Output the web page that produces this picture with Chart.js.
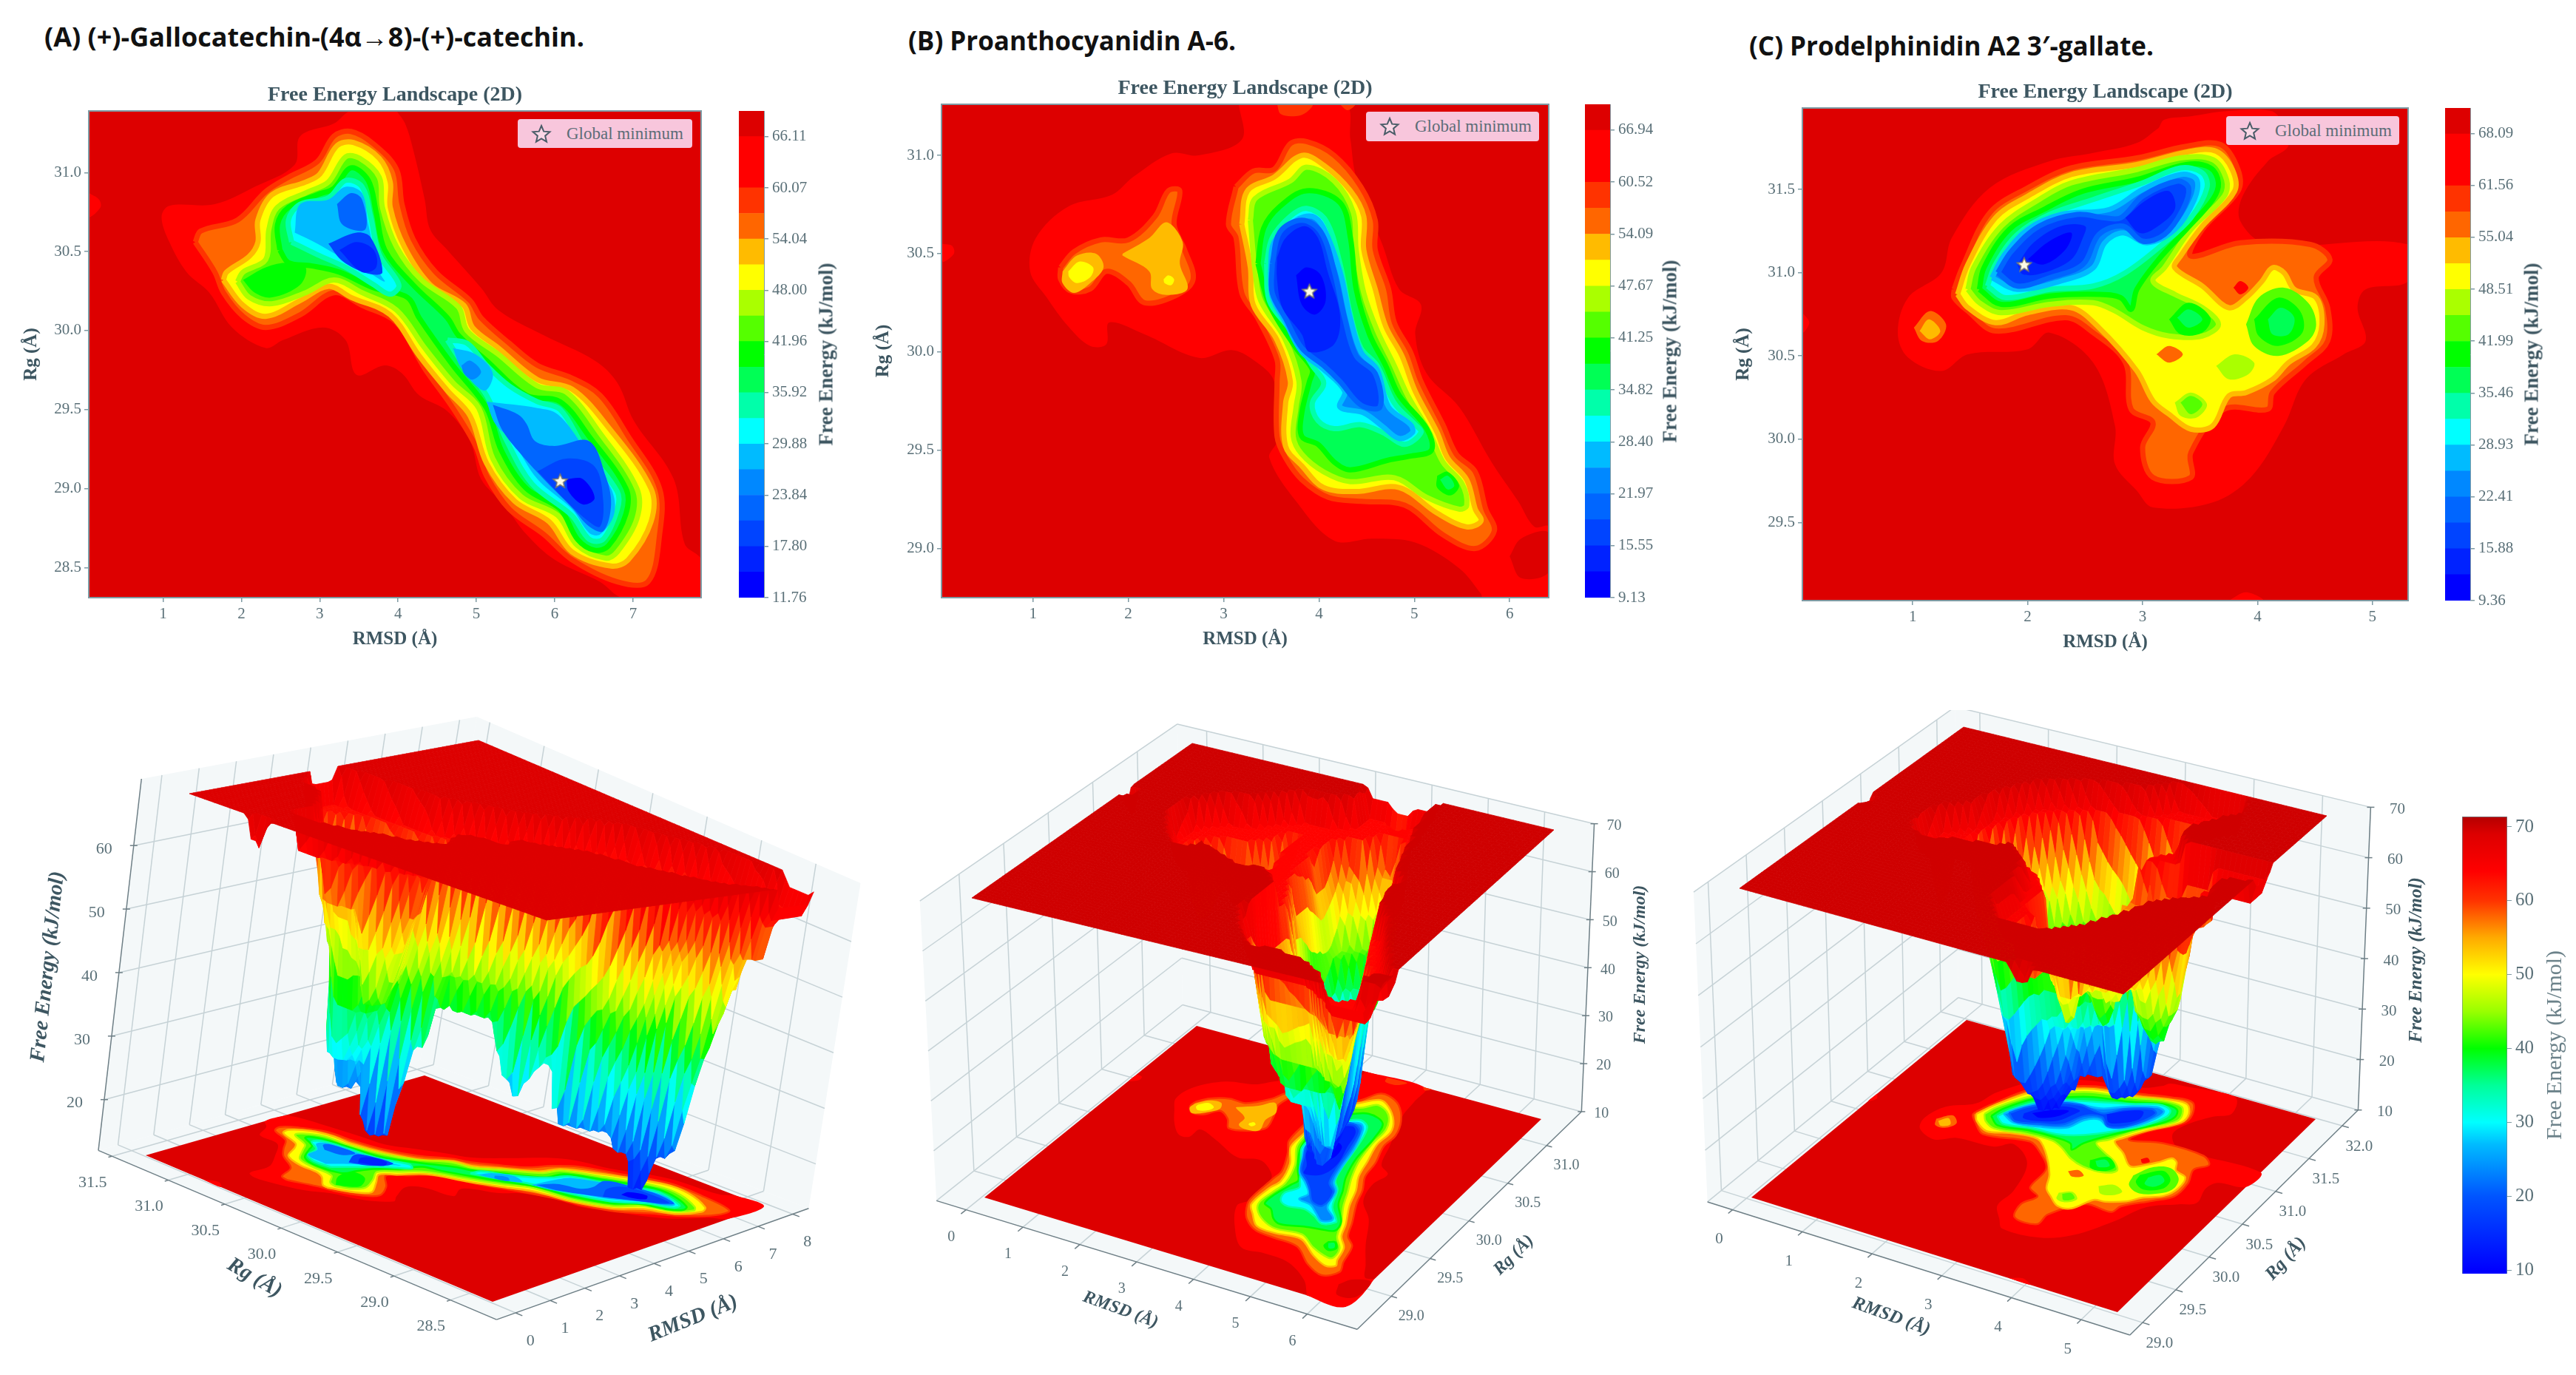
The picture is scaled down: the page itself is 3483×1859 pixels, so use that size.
<!DOCTYPE html>
<html>
<head>
<meta charset="utf-8">
<title>Free Energy Landscapes</title>
<script src="https://cdn.jsdelivr.net/npm/chart.js@4"></script>
<style>
  html, body { margin: 0; background: #fff; width: 3483px; height: 1859px; overflow: hidden; }
  canvas { position: absolute; filter: blur(0.7px); }
  .heading { position: absolute; font: 700 35px "Open Sans", sans-serif; color: #111; white-space: nowrap; }
  .barTitle { position: absolute; font: 700 27px "Liberation Serif", serif; color: #3d5661; white-space: nowrap;
              transform: translate(-50%, -50%) rotate(-90deg); }
  .legendBox { position: absolute; background: #f8c6dc; border-radius: 4px; color: #5d6d78; display: flex; align-items: center;
               font: 23px "Liberation Serif", serif; box-sizing: border-box; padding-left: 18px; gap: 20px; white-space: nowrap; }
</style>
</head>
<body>
<script>
// Colorbar tick labels of the three 2D panels (every second band edge)
const barTicksA = [11.76, 17.80, 23.84, 29.88, 35.92, 41.96, 48.00, 54.04, 60.07, 66.11];
const barTicksB = [9.13, 15.55, 21.97, 28.40, 34.82, 41.25, 47.67, 54.09, 60.52, 66.94];
const barTicksC = [9.36, 15.88, 22.41, 28.93, 35.46, 41.99, 48.51, 55.04, 61.56, 68.09];

// Global minimum of each landscape [RMSD, Rg]
const globalMinA = [6.07, 29.05];
const globalMinB = [3.90, 30.31];
const globalMinC = [1.97, 31.05];

// 3D axis ticks
const rmsdTicksA = [0, 1, 2, 3, 4, 5, 6, 7, 8];
const rgTicksA = [28.5, 29.0, 29.5, 30.0, 30.5, 31.0, 31.5];
const zTicksA = [20, 30, 40, 50, 60];
const rmsdTicksB = [0, 1, 2, 3, 4, 5, 6];
const rgTicksB = [29.0, 29.5, 30.0, 30.5, 31.0];
const zTicksB = [10, 20, 30, 40, 50, 60, 70];
const rmsdTicksC = [0, 1, 2, 3, 4, 5];
const rgTicksC = [29.0, 29.5, 30.0, 30.5, 31.0, 31.5, 32.0];
const zTicksC = [10, 20, 30, 40, 50, 60, 70];

// Colors of the 19 contour bands, low to high
const bandColors = ['#0000ff', '#0022ff', '#0044ff', '#0066ff', '#0088ff', '#00bbff', '#00ffff', '#00ffaa', '#00ff55', '#00ff00',
  '#55ff00', '#aaff00', '#ffff00', '#ffbb00', '#ff6600', '#ff3300', '#ff0000', '#ff0000', '#dd0000'];

// Continuous colormap of the 3D surfaces
const cmapValues = [10, 20, 27, 30, 35, 40, 45, 50, 55, 60, 64, 69, 72];
const cmapColors = ['#0000ff', '#0055ff', '#00bbff', '#00ffff', '#00ff99', '#00ff00', '#99ff00', '#ffff00', '#ffaa00', '#ff3300', '#ff0000', '#dd0000', '#b40000'];

// Contours: [band, [[RMSD, Rg], ...]], painted in order
const contoursA = [
  [16, [[3.98,31.39],[4.09,31.31],[4.19,31.15],[4.34,30.83],[4.41,30.64],[4.63,30.51],[5.06,30.27],[5.28,30.13],[5.86,29.97],[6.51,29.81],[6.80,29.67],[7.01,29.43],[7.52,29.06],[7.66,28.65],[7.87,28.55],[7.87,28.31],[6.87,28.31],[6.58,28.41],[6.00,28.55],[5.64,28.71],[5.35,28.90],[5.06,29.06],[4.92,29.30],[4.63,29.49],[4.27,29.59],[4.05,29.73],[3.83,29.78],[3.47,29.72],[3.33,29.94],[3.04,30.02],[2.53,29.94],[2.31,29.89],[1.88,30.02],[1.59,30.24],[1.30,30.37],[1.08,30.56],[0.98,30.72],[1.08,30.79],[1.66,30.80],[2.17,30.91],[2.68,31.05],[2.75,31.23],[3.18,31.31],[3.40,31.39]]],
  [16, [[0.05,30.87],[0.18,30.83],[0.20,30.78],[0.05,30.72]]],
  [14, [[1.41,30.56],[1.48,30.63],[1.95,30.70],[2.31,30.88],[2.60,30.97],[2.97,31.07],[3.18,31.23],[3.40,31.26],[3.69,31.18],[3.98,31.02],[4.05,30.80],[4.19,30.58],[4.48,30.37],[4.92,30.19],[5.06,30.08],[5.42,29.92],[5.78,29.78],[6.22,29.70],[6.58,29.59],[6.94,29.33],[7.34,29.00],[7.34,28.71],[7.19,28.41],[6.80,28.41],[6.22,28.55],[5.86,28.71],[5.42,28.87],[5.13,29.08],[4.99,29.27],[4.70,29.51],[4.34,29.76],[3.98,30.05],[3.54,30.16],[3.18,30.24],[2.75,30.10],[2.31,30.02],[2.02,30.09],[1.77,30.24],[1.66,30.37]]],
  [12, [[1.77,30.32],[1.81,30.37],[2.10,30.47],[2.21,30.56],[2.21,30.70],[2.39,30.86],[2.82,30.94],[3.00,30.99],[3.22,31.17],[3.43,31.19],[3.76,31.09],[3.90,30.94],[3.90,30.78],[4.08,30.53],[4.41,30.29],[4.84,30.16],[4.95,30.02],[5.28,29.89],[5.78,29.69],[6.22,29.63],[6.65,29.41],[7.23,29.00],[7.23,28.79],[6.94,28.55],[6.72,28.51],[6.22,28.60],[5.93,28.79],[5.49,28.92],[5.13,29.16],[4.92,29.46],[4.63,29.62],[4.27,29.84],[3.90,30.10],[3.40,30.21],[3.11,30.28],[2.75,30.19],[2.31,30.09],[2.02,30.16]]],
  [10, [[1.95,30.31],[2.02,30.37],[2.31,30.45],[2.35,30.64],[2.46,30.78],[2.86,30.88],[3.11,30.94],[3.33,31.10],[3.51,31.09],[3.76,30.97],[3.80,30.78],[3.98,30.53],[4.30,30.32],[4.77,30.15],[4.88,30.00],[5.28,29.85],[5.78,29.65],[6.15,29.61],[6.58,29.35],[7.05,29.00],[7.05,28.81],[6.80,28.60],[6.65,28.56],[6.29,28.64],[6.04,28.83],[5.57,28.95],[5.21,29.19],[5.03,29.51],[4.70,29.67],[4.34,29.89],[3.98,30.13],[3.54,30.24],[3.18,30.32],[2.82,30.24],[2.39,30.17],[2.10,30.21]]],
  [9, [[2.02,30.32],[2.31,30.40],[2.60,30.43],[2.82,30.40],[2.75,30.29],[2.39,30.21],[2.17,30.24]]],
  [8, [[2.49,30.51],[2.46,30.67],[2.60,30.78],[2.97,30.86],[3.18,30.90],[3.40,31.03],[3.62,30.95],[3.72,30.75],[3.83,30.51],[4.19,30.29],[4.63,30.08],[4.77,29.97],[5.13,29.81],[5.64,29.59],[6.07,29.55],[6.44,29.33],[6.91,29.00],[6.91,28.84],[6.69,28.64],[6.51,28.61],[6.29,28.68],[6.07,28.87],[5.64,29.00],[5.32,29.24],[5.13,29.51],[4.70,29.78],[4.27,30.08],[4.12,30.21],[3.69,30.27],[3.25,30.37],[2.89,30.41],[2.60,30.43]]],
  [6, [[2.64,30.56],[2.60,30.70],[2.75,30.80],[3.11,30.84],[3.33,30.95],[3.54,30.91],[3.65,30.72],[3.76,30.48],[4.01,30.29],[3.90,30.23],[3.69,30.29],[3.33,30.40],[2.97,30.48]]],
  [6, [[4.63,29.94],[4.88,29.92],[5.13,29.78],[5.42,29.65],[5.78,29.55],[6.07,29.50],[6.36,29.27],[6.80,28.98],[6.80,28.87],[6.62,28.68],[6.44,28.68],[6.22,28.83],[5.71,29.03],[5.39,29.30],[5.13,29.59],[4.84,29.78]]],
  [5, [[2.68,30.62],[2.75,30.80],[3.11,30.83],[3.33,30.91],[3.54,30.87],[3.62,30.67],[3.76,30.37],[3.83,30.31],[3.62,30.37],[3.25,30.47],[2.97,30.55]]],
  [3, [[3.22,30.80],[3.40,30.87],[3.54,30.83],[3.58,30.64],[3.29,30.67]]],
  [2, [[3.11,30.55],[3.47,30.62],[3.65,30.59],[3.80,30.37],[3.62,30.36],[3.29,30.44]]],
  [1, [[3.25,30.51],[3.47,30.56],[3.69,30.51],[3.72,30.40],[3.54,30.37]]],
  [5, [[4.70,29.89],[4.99,29.85],[5.21,29.73],[5.10,29.62],[4.81,29.76]]],
  [4, [[4.81,29.78],[4.92,29.81],[5.06,29.74],[4.95,29.69],[4.84,29.73]]],
  [5, [[5.13,29.55],[5.78,29.51],[6.04,29.47],[6.36,29.27],[6.72,29.00],[6.76,28.84],[6.58,28.71],[6.44,28.72],[6.22,28.87],[5.78,29.06],[5.46,29.30],[5.24,29.41]]],
  [3, [[5.21,29.53],[5.53,29.47],[5.64,29.41],[5.75,29.30],[6.00,29.27],[6.44,29.30],[6.65,29.08],[6.72,28.90],[6.62,28.73],[6.44,28.76],[6.22,28.88],[5.86,29.06],[5.53,29.24],[5.32,29.38]]],
  [2, [[5.78,29.11],[6.15,29.19],[6.51,29.14],[6.62,28.92],[6.58,28.76],[6.44,28.79],[6.15,28.92]]],
  [0, [[6.15,29.06],[6.36,29.06],[6.51,28.94],[6.36,28.90],[6.18,28.98]]]
];

const contoursB = [
  [16, [[3.16,31.26],[3.19,31.08],[2.74,31.00],[2.45,31.01],[2.05,30.89],[1.83,30.80],[1.37,30.74],[1.03,30.58],[0.97,30.41],[1.14,30.28],[1.37,30.13],[1.60,30.03],[1.77,30.04],[1.80,30.15],[2.17,30.09],[2.74,29.97],[3.08,30.01],[3.31,29.96],[3.53,29.85],[3.56,29.55],[3.48,29.46],[3.76,29.24],[4.16,29.04],[4.56,29.05],[5.01,29.03],[5.47,28.90],[5.70,28.77],[5.72,28.75],[6.41,28.75],[6.41,29.11],[6.26,29.11],[6.09,29.24],[5.81,29.44],[5.47,29.72],[5.13,29.89],[5.01,30.09],[5.07,30.24],[4.84,30.32],[4.67,30.54],[4.39,30.89],[4.33,31.08],[4.27,31.26]]],
  [15, [[3.56,31.26],[3.60,31.21],[3.76,31.20],[3.87,31.22],[3.93,31.26]]],
  [15, [[4.22,31.26],[4.30,31.23],[4.38,31.26]]],
  [18, [[6.00,28.96],[6.12,29.05],[6.41,29.08],[6.41,28.88],[6.12,28.85]]],
  [16, [[0.05,30.55],[0.15,30.54],[0.17,30.50],[0.05,30.46]]],
  [14, [[3.13,30.84],[3.31,30.92],[3.53,30.93],[3.70,31.06],[3.87,31.07],[4.16,31.00],[4.44,30.84],[4.59,30.67],[4.59,30.52],[4.73,30.32],[4.79,30.15],[4.96,30.00],[5.07,29.85],[5.30,29.63],[5.44,29.48],[5.64,29.39],[5.75,29.20],[5.84,29.09],[5.64,29.00],[5.30,29.07],[4.90,29.22],[4.44,29.24],[4.10,29.26],[3.82,29.35],[3.65,29.46],[3.56,29.57],[3.56,29.85],[3.56,29.96],[3.36,30.17],[3.19,30.30],[3.13,30.58],[3.05,30.65]]],
  [14, [[1.29,30.43],[1.43,30.51],[1.71,30.57],[2.00,30.57],[2.28,30.69],[2.42,30.82],[2.54,30.82],[2.48,30.65],[2.59,30.52],[2.68,30.37],[2.51,30.29],[2.17,30.25],[2.00,30.35],[1.77,30.41],[1.60,30.32],[1.40,30.31],[1.29,30.37]]],
  [13, [[1.94,30.50],[2.22,30.58],[2.40,30.66],[2.57,30.56],[2.54,30.45],[2.62,30.32],[2.40,30.29],[2.25,30.32],[2.22,30.41],[1.94,30.49]]],
  [12, [[2.37,30.37],[2.42,30.39],[2.48,30.37],[2.45,30.34],[2.38,30.35]]],
  [13, [[1.31,30.41],[1.46,30.49],[1.66,30.50],[1.74,30.43],[1.60,30.35],[1.43,30.30],[1.31,30.35]]],
  [12, [[1.37,30.41],[1.49,30.46],[1.63,30.43],[1.60,30.38],[1.46,30.35],[1.38,30.38]]],
  [12, [[3.19,30.65],[3.25,30.82],[3.53,30.89],[3.82,31.00],[4.05,30.95],[4.33,30.82],[4.47,30.69],[4.47,30.52],[4.59,30.32],[4.70,30.13],[4.87,29.98],[5.01,29.80],[5.24,29.59],[5.35,29.46],[5.55,29.35],[5.64,29.20],[5.70,29.14],[5.55,29.11],[5.24,29.18],[4.84,29.31],[4.39,29.29],[4.05,29.31],[3.82,29.42],[3.65,29.52],[3.65,29.74],[3.70,29.85],[3.56,30.06],[3.31,30.24],[3.28,30.43]]],
  [10, [[3.28,30.67],[3.33,30.78],[3.70,30.87],[3.87,30.94],[4.16,30.87],[4.36,30.71],[4.39,30.52],[4.47,30.30],[4.61,30.11],[4.79,29.93],[4.93,29.78],[5.16,29.59],[5.30,29.44],[5.50,29.33],[5.55,29.22],[5.47,29.20],[5.13,29.26],[4.79,29.36],[4.33,29.34],[4.05,29.39],[3.82,29.48],[3.73,29.57],[3.76,29.72],[3.79,29.85],[3.65,30.06],[3.39,30.26],[3.33,30.41]]],
  [9, [[5.24,29.37],[5.35,29.39],[5.47,29.32],[5.38,29.27],[5.24,29.31]]],
  [8, [[5.27,29.35],[5.35,29.37],[5.42,29.32],[5.35,29.30]]],
  [8, [[3.36,30.45],[3.42,30.63],[3.59,30.74],[3.87,30.82],[4.22,30.76],[4.33,30.58],[4.39,30.32],[4.53,30.09],[4.70,29.93],[4.84,29.78],[5.13,29.61],[5.18,29.50],[4.96,29.47],[4.73,29.45],[4.33,29.40],[4.16,29.44],[3.99,29.53],[3.82,29.57],[3.82,29.69],[3.90,29.85],[3.93,29.91],[3.76,30.02],[3.48,30.24]]],
  [6, [[3.45,30.45],[3.51,30.58],[3.70,30.69],[3.87,30.73],[4.07,30.67],[4.22,30.45],[4.33,30.19],[4.44,30.02],[4.61,29.93],[4.79,29.74],[5.01,29.63],[5.07,29.59],[4.90,29.53],[4.67,29.59],[4.44,29.63],[4.16,29.61],[3.99,29.65],[3.93,29.74],[4.05,29.84],[3.93,29.93],[3.70,30.11],[3.48,30.26]]],
  [4, [[3.49,30.41],[3.53,30.56],[3.76,30.67],[3.93,30.69],[4.05,30.63],[4.22,30.41],[4.33,30.17],[4.44,30.00],[4.61,29.91],[4.73,29.72],[4.96,29.63],[4.98,29.59],[4.84,29.56],[4.67,29.62],[4.47,29.69],[4.22,29.72],[4.27,29.80],[4.05,29.91],[3.82,30.00],[3.65,30.15],[3.51,30.28]]],
  [2, [[3.51,30.45],[3.59,30.61],[3.82,30.67],[4.02,30.61],[4.16,30.41],[4.27,30.17],[4.39,29.98],[4.59,29.89],[4.64,29.72],[4.44,29.73],[4.22,29.85],[4.05,29.93],[3.82,30.02],[3.65,30.17],[3.51,30.30]]],
  [1, [[3.56,30.48],[3.65,30.58],[3.85,30.64],[3.99,30.58],[4.09,30.41],[4.22,30.19],[4.16,30.04],[3.90,30.00],[3.82,30.09],[3.62,30.22],[3.56,30.37]]],
  [0, [[3.76,30.39],[3.87,30.43],[4.02,30.39],[4.07,30.26],[3.96,30.19],[3.82,30.24]]]
];

const contoursC = [
  [16, [[3.14,31.87],[3.19,31.92],[3.42,31.94],[3.71,31.97],[4.13,31.97],[4.27,31.77],[4.09,31.67],[3.87,31.46],[3.85,31.31],[4.09,31.17],[5.31,31.17],[5.31,30.95],[4.94,30.90],[4.87,30.79],[4.94,30.59],[4.75,30.51],[4.42,30.36],[4.23,30.08],[3.94,29.77],[3.61,29.62],[3.09,29.59],[2.95,29.69],[2.76,29.85],[2.76,30.08],[2.57,30.46],[2.19,30.64],[2.00,30.54],[1.48,30.51],[1.25,30.41],[0.96,30.49],[0.87,30.64],[0.96,30.85],[1.25,31.00],[1.34,31.21],[1.67,31.51],[2.19,31.67],[2.57,31.72],[2.95,31.78]]],
  [16, [[0.04,30.76],[0.10,30.70],[0.04,30.64]]],
  [16, [[3.75,29.03],[3.90,29.08],[4.05,29.03]]],
  [14, [[1.36,30.90],[1.43,31.03],[1.67,31.36],[2.00,31.51],[2.38,31.63],[2.95,31.69],[3.38,31.76],[3.68,31.77],[3.83,31.62],[3.83,31.49],[3.52,31.26],[3.42,31.10],[3.85,31.18],[4.46,31.17],[4.63,31.08],[4.51,30.97],[4.61,30.79],[4.61,30.59],[4.42,30.46],[4.13,30.28],[4.09,30.18],[3.71,30.18],[3.42,29.92],[3.42,29.77],[3.09,29.77],[3.00,29.95],[3.09,30.10],[2.90,30.18],[2.85,30.46],[2.57,30.64],[2.33,30.73],[1.72,30.65],[1.48,30.77],[1.36,30.85]]],
  [14, [[1.01,30.67],[1.15,30.77],[1.29,30.69],[1.22,30.59],[1.08,30.59]]],
  [13, [[1.06,30.65],[1.14,30.72],[1.24,30.65],[1.15,30.60]]],
  [12, [[1.39,30.87],[1.48,31.05],[1.72,31.33],[2.00,31.46],[2.38,31.59],[2.95,31.65],[3.42,31.73],[3.64,31.73],[3.78,31.62],[3.80,31.49],[3.52,31.28],[3.33,31.10],[3.28,31.03],[3.52,30.92],[3.75,30.79],[3.90,30.85],[4.04,30.95],[4.13,31.03],[4.23,31.00],[4.32,30.90],[4.51,30.85],[4.56,30.69],[4.49,30.56],[4.27,30.46],[4.13,30.36],[3.90,30.28],[3.75,30.26],[3.61,30.08],[3.42,30.06],[3.23,30.15],[3.09,30.23],[2.95,30.41],[2.62,30.67],[2.38,30.79],[2.00,30.76],[1.72,30.70],[1.48,30.79]]],
  [16, [[3.79,30.91],[3.85,30.95],[3.92,30.91],[3.85,30.87]]],
  [10, [[1.48,30.90],[1.53,31.03],[1.77,31.28],[2.10,31.44],[2.38,31.54],[2.95,31.62],[3.33,31.69],[3.61,31.68],[3.73,31.56],[3.71,31.46],[3.42,31.26],[3.19,31.03],[3.09,30.95],[3.28,30.87],[3.52,30.79],[3.66,30.69],[3.52,30.62],[3.23,30.62],[3.00,30.67],[2.76,30.77],[2.57,30.82],[2.19,30.81],[1.77,30.76],[1.58,30.82]]],
  [10, [[3.90,30.69],[4.01,30.85],[4.23,30.91],[4.44,30.82],[4.51,30.69],[4.44,30.59],[4.18,30.50],[3.97,30.56]]],
  [11, [[3.64,30.44],[3.80,30.51],[3.97,30.46],[3.92,30.39],[3.75,30.36]]],
  [11, [[3.28,30.22],[3.42,30.28],[3.56,30.21],[3.47,30.13],[3.33,30.14]]],
  [10, [[3.33,30.22],[3.42,30.26],[3.52,30.21],[3.42,30.15]]],
  [14, [[3.12,30.51],[3.23,30.56],[3.35,30.51],[3.23,30.46]]],
  [8, [[1.58,30.90],[1.62,31.03],[1.84,31.26],[2.14,31.38],[2.48,31.49],[2.95,31.56],[3.38,31.65],[3.59,31.63],[3.66,31.54],[3.61,31.44],[3.38,31.26],[3.14,31.08],[2.95,30.90],[2.90,30.78],[2.81,30.85],[2.62,30.87],[2.19,30.86],[1.77,30.81]]],
  [9, [[3.23,30.72],[3.40,30.82],[3.59,30.73],[3.52,30.64],[3.33,30.63]]],
  [8, [[3.30,30.73],[3.40,30.78],[3.52,30.72],[3.40,30.67]]],
  [9, [[3.97,30.72],[4.18,30.85],[4.37,30.77],[4.39,30.64],[4.18,30.56],[4.01,30.62]]],
  [8, [[4.09,30.72],[4.20,30.79],[4.32,30.73],[4.27,30.63],[4.13,30.63]]],
  [6, [[1.65,30.92],[1.72,31.05],[1.91,31.23],[2.19,31.35],[2.57,31.44],[3.00,31.54],[3.33,31.63],[3.52,31.60],[3.56,31.51],[3.42,31.33],[3.19,31.18],[2.85,31.00],[2.57,30.92],[2.19,30.90],[1.81,30.85]]],
  [4, [[1.69,30.97],[1.79,31.10],[2.00,31.26],[2.29,31.35],[2.71,31.38],[3.00,31.50],[3.33,31.59],[3.47,31.56],[3.45,31.44],[3.28,31.26],[3.04,31.18],[2.83,31.24],[2.67,31.18],[2.57,31.03],[2.29,30.95],[1.91,30.90]]],
  [2, [[1.74,31.00],[1.86,31.13],[2.10,31.28],[2.43,31.35],[2.67,31.33],[2.81,31.33],[3.00,31.46],[3.30,31.55],[3.40,31.51],[3.35,31.38],[3.19,31.23],[3.00,31.19],[2.83,31.28],[2.62,31.23],[2.48,31.05],[2.19,30.97],[1.91,30.92]]],
  [1, [[1.91,31.05],[2.05,31.18],[2.29,31.28],[2.50,31.28],[2.48,31.21],[2.38,31.08],[2.14,31.00],[1.96,30.99]]],
  [1, [[2.85,31.33],[3.04,31.44],[3.23,31.49],[3.28,31.38],[3.09,31.26],[2.97,31.24]]],
  [0, [[2.00,31.08],[2.19,31.19],[2.38,31.24],[2.33,31.14],[2.14,31.05]]]
];

Chart.defaults.animation = false;
Chart.defaults.font.family = '"Liberation Serif", serif';

const inkColor = '#3d5661';
const tickColor = '#5a7078';
const spineColor = '#7f9aa3';

function addCanvas(x, y, w, h) {
  const c = document.createElement('canvas');
  c.width = w; c.height = h;
  c.style.left = x + 'px'; c.style.top = y + 'px';
  c.style.width = w + 'px'; c.style.height = h + 'px';
  document.body.appendChild(c);
  return c.getContext('2d');
}

function addText(cls, text, css) {
  const d = document.createElement('div');
  d.className = cls;
  d.textContent = text;
  Object.assign(d.style, css);
  document.body.appendChild(d);
  return d;
}

// 5 point star used for the global minimum
function starPoints(cx, cy, R) {
  const pts = [];
  for (let i = 0; i < 10; i++) {
    const r = i % 2 ? R * 0.45 : R;
    const a = -Math.PI / 2 + i * Math.PI / 5;
    pts.push([cx + r * Math.cos(a), cy + r * Math.sin(a)]);
  }
  return pts;
}

function starCanvas(size, fill, edge, lineWidth) {
  const c = document.createElement('canvas');
  c.width = c.height = size;
  const g = c.getContext('2d');
  g.beginPath();
  starPoints(size / 2, size / 2 + 1, size / 2 - 2).forEach(p => g.lineTo(p[0], p[1]));
  g.closePath();
  g.fillStyle = fill; g.fill();
  g.strokeStyle = edge; g.lineWidth = lineWidth; g.stroke();
  return c;
}

// one line dataset per contour, closed and filled
function contourDatasets(contours, toPoint, edgeWidth) {
  return contours.map(([band, pts]) => {
    const edged = band < 16 && band % 2 === 0 && pts.length >= 12;
    const data = pts.concat([pts[0]]).map(p => toPoint(p[0], p[1]));
    return {
      data, fill: 'shape', tension: 0.35, pointRadius: 0,
      backgroundColor: bandColors[band],
      borderColor: edged ? bandColors[band + 1] : bandColors[band],
      borderWidth: edged ? edgeWidth : 0,
      clip: 0
    };
  });
}

// ---------- 2D contour panels ----------
function draw2dPanel(p) {
  const left = p.titleX - 20, top = p.y0 - 38, w = p.x1 - left + 6, h = p.y1 - top + 72;
  const ctx = addCanvas(left, top, w, h);
  const datasets = contourDatasets(p.contours, (x, y) => ({ x, y }), 7);
  datasets.reverse();
  datasets.unshift({
    data: [{ x: p.min[0], y: p.min[1] }], showLine: false, clip: false,
    pointStyle: starCanvas(24, '#fffbe8', '#7a7a70', 1.5)
  });
  new Chart(ctx, {
    type: 'line',
    data: { datasets },
    options: {
      responsive: false, devicePixelRatio: 1,
      layout: { padding: 0 },
      plugins: {
        legend: { display: false }, tooltip: { enabled: false },
        title: { display: true, fullSize: false, text: 'Free Energy Landscape (2D)', color: inkColor,
          font: { size: 28, weight: 'bold', lineHeight: 1.2 }, padding: { top: 0, bottom: 4.4 } }
      },
      scales: {
        x: {
          type: 'linear', min: p.xlim[0], max: p.xlim[1],
          afterFit: s => { s.height = 72; },
          grid: { display: true, drawOnChartArea: false, tickLength: 6, color: spineColor, lineWidth: 1.5 },
          border: { display: false },
          ticks: { stepSize: 1, includeBounds: false, autoSkip: false, maxRotation: 0, color: tickColor, font: { size: 21 }, padding: 4 },
          title: { display: true, text: 'RMSD (Å)', color: inkColor, font: { size: 25, weight: 'bold' }, padding: { top: 4, bottom: 0 } }
        },
        y: {
          type: 'linear', min: p.ylim[0], max: p.ylim[1],
          afterFit: s => { s.width = p.x0 - left; },
          grid: { display: true, drawOnChartArea: false, tickLength: 6, color: spineColor, lineWidth: 1.5 },
          border: { display: false },
          ticks: { stepSize: 0.5, includeBounds: false, autoSkip: false, color: tickColor, font: { size: 21 }, padding: 4,
            callback: v => v.toFixed(1) },
          title: { display: true, text: 'Rg (Å)', color: inkColor, font: { size: 25, weight: 'bold' }, padding: { top: 4, bottom: 0 } }
        }
      }
    },
    plugins: [{
      id: 'plotFrame',
      beforeDatasetsDraw(chart) {
        const a = chart.chartArea, g = chart.ctx;
        g.fillStyle = bandColors[18];
        g.fillRect(a.left, a.top, a.width, a.height);
      },
      afterDatasetsDraw(chart) {
        const a = chart.chartArea, g = chart.ctx;
        g.strokeStyle = spineColor; g.lineWidth = 2;
        g.strokeRect(a.left, a.top, a.width, a.height);
      }
    }]
  });
  drawBandBar(p);
  addText('barTitle', 'Free Energy (kJ/mol)', { left: p.barTitle[0] + 'px', top: p.barTitle[1] + 'px' });
  addText('heading', p.heading, { left: p.headingAt[0] + 'px', top: p.headingAt[1] + 'px', fontSize: p.headingSize + 'px' });
  const box = addText('legendBox', '', { left: p.legend[0] + 'px', top: p.legend[1] + 'px', width: p.legend[2] + 'px', height: p.legend[3] + 'px' });
  const star = starCanvas(28, 'rgba(255,255,255,0.3)', '#4a5c68', 2);
  star.style.position = 'static'; star.style.filter = 'none'; star.style.flex = 'none';
  box.appendChild(star);
  box.appendChild(document.createTextNode('Global minimum'));
}

// stacked colorbar with one floating bar per contour band
function drawBandBar(p) {
  const ticks = p.barTicks, step = (ticks[1] - ticks[0]) / 2;
  const w = p.barX[1] - p.barX[0], pad = 20;
  const ctx = addCanvas(p.barX[0], p.y0 - pad, w + 80, p.y1 - p.y0 + 2 * pad);
  new Chart(ctx, {
    type: 'bar',
    data: {
      labels: [''],
      datasets: bandColors.map((c, i) => ({
        data: [[ticks[0] + i * step, ticks[0] + (i + 1) * step]],
        backgroundColor: c, grouped: false, barPercentage: 1, categoryPercentage: 1
      }))
    },
    options: {
      responsive: false, devicePixelRatio: 1,
      layout: { padding: { top: pad, bottom: pad } },
      plugins: { legend: { display: false }, tooltip: { enabled: false } },
      scales: {
        x: { display: false },
        y: {
          position: 'right', min: ticks[0], max: ticks[0] + 19 * step,
          afterBuildTicks: s => { s.ticks = ticks.map(v => ({ value: v })); },
          afterFit: s => { s.width = 80; },
          grid: { display: true, drawOnChartArea: false, tickLength: 6, color: spineColor, lineWidth: 1.5 },
          border: { display: true, color: spineColor },
          ticks: { color: tickColor, font: { size: 21 }, padding: 5, autoSkip: false, callback: v => v.toFixed(2) }
        }
      }
    }
  });
}

// ---------- 3D panels ----------
function hexToRgb(h) {
  return [parseInt(h.slice(1, 3), 16), parseInt(h.slice(3, 5), 16), parseInt(h.slice(5, 7), 16)];
}
const cmapRgb = cmapColors.map(hexToRgb);

function cmap(v) {
  let i = 0;
  while (i < cmapValues.length - 2 && v > cmapValues[i + 1]) i++;
  const t = Math.max(0, Math.min(1, (v - cmapValues[i]) / (cmapValues[i + 1] - cmapValues[i])));
  const a = cmapRgb[i], b = cmapRgb[i + 1];
  return `rgb(${a[0] + (b[0] - a[0]) * t | 0},${a[1] + (b[1] - a[1]) * t | 0},${a[2] + (b[2] - a[2]) * t | 0})`;
}

// view of a panel: positions of the plate corners on the page, bottom and top
function project(p, r, g, e) {
  const u = (r - p.plate.r0) / (p.plate.r1 - p.plate.r0);
  const v = (g - p.plate.g0) / (p.plate.g1 - p.plate.g0);
  const w = (e - p.plate.z0) / (p.plate.z1 - p.plate.z0);
  const bil = (c, k) => (1 - u) * (1 - v) * c[0][k] + u * (1 - v) * c[1][k] + u * v * c[2][k] + (1 - u) * v * c[3][k];
  return {
    x: (1 - w) * bil(p.floor, 0) + w * bil(p.top, 0),
    y: (1 - w) * bil(p.floor, 1) + w * bil(p.top, 1)
  };
}

function insidePoly(pts, x, y) {
  let hit = false;
  for (let i = 0, j = pts.length - 1; i < pts.length; j = i++) {
    const a = pts[i], b = pts[j];
    if ((a[1] > y) !== (b[1] > y) && x < (b[0] - a[0]) * (y - a[1]) / (b[1] - a[1]) + a[0]) hit = !hit;
  }
  return hit;
}

// Height at a point: the band of the last contour holding it
function heightAt(p, x, y) {
  const ticks = p.barTicks, step = (ticks[1] - ticks[0]) / 2;
  for (let k = p.contours.length - 1; k >= 0; k--) {
    if (insidePoly(p.contours[k][1], x, y)) {
      const band = p.contours[k][0];
      if (band === 18) break;
      return ticks[0] + step * (band >= 16 ? 17 : band + 0.5);
    }
  }
  return p.plate.z1;
}

function surfaceNodes(p) {
  const N = p.cells, nodes = [], E = [];
  const dr = (p.plate.r1 - p.plate.r0) / N, dg = (p.plate.g1 - p.plate.g0) / N;
  const spread = 14.4 / N;
  for (let i = 0; i <= N; i++) {
    for (let j = 0; j <= N; j++) {
      const r = p.plate.r0 + i * dr, g = p.plate.g0 + j * dg;
      let sum = 0;
      for (let a = -2; a <= 2; a++) for (let b = -2; b <= 2; b++) sum += heightAt(p, r + a * dr * spread, g + b * dg * spread);
      const e = sum / 25;
      E.push(e);
      nodes.push(project(p, r, g, e));
    }
  }
  return { nodes, E };
}

function draw3dAxes(g, chart, p) {
  const b = p.box, px = (r, gg, z) => {
    const q = project(p, r, gg, z);
    return [chart.scales.x.getPixelForValue(q.x), chart.scales.y.getPixelForValue(q.y)];
  };
  const poly = pts => {
    g.beginPath();
    pts.forEach(q => g.lineTo(q[0], q[1]));
    g.closePath();
    g.fill();
  };
  const line = (a, c) => { g.beginPath(); g.moveTo(a[0], a[1]); g.lineTo(c[0], c[1]); g.stroke(); };

  g.fillStyle = '#f4f8f9';
  poly([px(b.r0, b.g0, b.z0), px(b.r1, b.g0, b.z0), px(b.r1, b.g1, b.z0), px(b.r0, b.g1, b.z0)]);
  poly([px(b.r0, b.g1, b.z0), px(b.r1, b.g1, b.z0), px(b.r1, b.g1, b.z1), px(b.r0, b.g1, b.z1)]);
  poly([px(p.wallR, b.g0, b.z0), px(p.wallR, b.g1, b.z0), px(p.wallR, b.g1, b.z1), px(p.wallR, b.g0, b.z1)]);

  g.strokeStyle = '#c6d2d6'; g.lineWidth = 1.5;
  p.rmsdTicks.forEach(t => {
    line(px(t, b.g0, b.z0), px(t, b.g1, b.z0));
    line(px(t, b.g1, b.z0), px(t, b.g1, b.z1));
  });
  p.rgTicks.forEach(t => {
    line(px(b.r0, t, b.z0), px(b.r1, t, b.z0));
    line(px(p.wallR, t, b.z0), px(p.wallR, t, b.z1));
  });
  p.zTicks.forEach(t => {
    line(px(b.r0, b.g1, t), px(b.r1, b.g1, t));
    line(px(p.wallR, b.g0, t), px(p.wallR, b.g1, t));
  });

  g.strokeStyle = '#6e7f86'; g.lineWidth = 1.5;
  line(px(b.r0, b.g0, b.z0), px(b.r1, b.g0, b.z0));
  line(px(p.axisR, b.g0, b.z0), px(p.axisR, b.g1, b.z0));
  line(px(p.axisR, b.g1, b.z0), px(p.axisR, b.g1, b.z1));

  g.fillStyle = tickColor; g.font = p.tickFont;
  g.textAlign = 'center'; g.textBaseline = 'middle';
  p.rmsdTicks.forEach(t => {
    const q = px(t, b.g0, b.z0), q2 = px(t, b.g0 - 0.06, b.z0);
    line(q, q2);
    g.fillText(String(t), q[0] + p.rmsdOff[0], q[1] + p.rmsdOff[1]);
  });
  p.rgTicks.forEach(t => {
    const q = px(p.axisR, t, b.z0), q2 = px(p.axisR + (p.axisR < 0 ? -0.1 : 0.1), t, b.z0);
    line(q, q2);
    g.fillText(t.toFixed(1), q[0] + p.rgOff[0], q[1] + p.rgOff[1]);
  });
  p.zTicks.forEach(t => {
    const q = px(p.axisR, b.g1, t);
    line([q[0] - 5, q[1]], [q[0] + 5, q[1]]);
    g.fillText(String(t), q[0] + p.zOff[0], q[1] + p.zOff[1]);
  });

  g.fillStyle = inkColor;
  p.axisTitles.forEach(([text, x, y, deg]) => {
    g.save();
    g.translate(chart.scales.x.getPixelForValue(x), chart.scales.y.getPixelForValue(y));
    g.rotate(deg * Math.PI / 180);
    g.font = p.titleFont;
    g.fillText(text, 0, 0);
    g.restore();
  });
}

function draw3dPanel(p) {
  const ctx = addCanvas(p.view[0], p.view[1], p.view[2], p.view[3]);
  const { nodes, E } = surfaceNodes(p);
  const plate = p.plate, z = plate.z0;
  const plateData = [[plate.r0, plate.g0], [plate.r1, plate.g0], [plate.r1, plate.g1], [plate.r0, plate.g1], [plate.r0, plate.g0]]
    .map(q => project(p, q[0], q[1], z));
  const floorSets = contourDatasets(p.contours, (x, y) => project(p, x, y, z), 2.5);
  const datasets = [
    { data: plateData, fill: 'shape', tension: 0, pointRadius: 0, borderWidth: 0, backgroundColor: bandColors[18], clip: false }
  ].concat(floorSets, [{ data: nodes, showLine: false, pointRadius: 0, clip: false }]);
  datasets.reverse();
  const N = p.cells, at = (i, j) => i * (N + 1) + j;

  new Chart(ctx, {
    type: 'line',
    data: { datasets },
    options: {
      responsive: false, devicePixelRatio: 1,
      layout: { padding: 0 },
      plugins: { legend: { display: false }, tooltip: { enabled: false } },
      scales: {
        x: { type: 'linear', display: false, min: p.view[0], max: p.view[0] + p.view[2] },
        y: { type: 'linear', display: false, min: p.view[1], max: p.view[1] + p.view[3], reverse: true }
      }
    },
    plugins: [{
      id: 'axes3d',
      beforeDatasetsDraw(chart) { draw3dAxes(chart.ctx, chart, p); },
      // facets back to front from the node dataset, so nearer walls hide the far ones
      afterDatasetsDraw(chart) {
        const g = chart.ctx, pts = chart.getDatasetMeta(0).data;
        g.lineWidth = 0.8; g.lineJoin = 'round';
        for (let a = 0; a < N; a++) {
          const i = p.farRmsdHigh ? N - 1 - a : a;
          for (let b = 0; b < N; b++) {
            const j = N - 1 - b;
            const q = [pts[at(i, j)], pts[at(i + 1, j)], pts[at(i + 1, j + 1)], pts[at(i, j + 1)]];
            const c = cmap((E[at(i, j)] + E[at(i + 1, j)] + E[at(i + 1, j + 1)] + E[at(i, j + 1)]) / 4);
            g.beginPath();
            q.forEach(o => g.lineTo(o.x, o.y));
            g.closePath();
            g.fillStyle = c; g.strokeStyle = c;
            g.fill(); g.stroke();
          }
        }
      }
    }]
  });
}

// continuous colorbar of the 3D surfaces
function drawContinuousBar() {
  const ctx = addCanvas(3329, 1084, 110, 658);
  new Chart(ctx, {
    type: 'bar',
    data: {
      labels: [''],
      datasets: [{
        data: [[9.5, 71.4]], barPercentage: 1, categoryPercentage: 1,
        borderColor: '#6f8a91', borderWidth: 1,
        backgroundColor: c => {
          const chart = c.chart, y = chart.scales.y;
          if (!chart.chartArea || !y || !isFinite(y.getPixelForValue(9.5))) return cmapColors[0];
          const grad = chart.ctx.createLinearGradient(0, y.getPixelForValue(9.5), 0, y.getPixelForValue(71.4));
          cmapValues.forEach((v, i) => grad.addColorStop(Math.min(1, Math.max(0, (v - 9.5) / 61.9)), cmapColors[i]));
          return grad;
        }
      }]
    },
    options: {
      responsive: false, devicePixelRatio: 1,
      layout: { padding: { top: 20, bottom: 20 } },
      plugins: { legend: { display: false }, tooltip: { enabled: false } },
      scales: {
        x: { display: false },
        y: {
          position: 'right', min: 9.5, max: 71.4,
          afterBuildTicks: s => { s.ticks = zTicksB.map(v => ({ value: v })); },
          afterFit: s => { s.width = 49; },
          grid: { display: true, drawOnChartArea: false, tickLength: 6, color: spineColor },
          border: { display: false },
          ticks: { color: tickColor, font: { size: 25 }, padding: 5 }
        }
      }
    }
  });
  addText('barTitle', 'Free Energy (kJ/mol)', { left: '3453px', top: '1413px', font: '30px "Liberation Serif", serif', color: '#6a8088' });
}

const panels2d = [
  { contours: contoursA, min: globalMinA, barTicks: barTicksA, x0: 120, x1: 947, y0: 150, y1: 808, xlim: [0.05, 7.87], ylim: [28.31, 31.39],
    titleX: 44, barX: [999, 1033], barTitle: [1117, 479],
    heading: '(A) (+)-Gallocatechin-(4α→8)-(+)-catechin.', headingAt: [60, 25], headingSize: 36, legend: [700, 161, 236, 39] },
  { contours: contoursB, min: globalMinB, barTicks: barTicksB, x0: 1273, x1: 2093, y0: 141, y1: 808, xlim: [0.04, 6.41], ylim: [28.75, 31.26],
    titleX: 1196, barX: [2143, 2177], barTitle: [2258, 475],
    heading: '(B) Proanthocyanidin A-6.', headingAt: [1228, 31], headingSize: 35, legend: [1847, 151, 234, 40] },
  { contours: contoursC, min: globalMinC, barTicks: barTicksC, x0: 2437, x1: 3255, y0: 146, y1: 812, xlim: [0.04, 5.31], ylim: [29.03, 31.99],
    titleX: 2359, barX: [3306, 3340], barTitle: [3423, 479],
    heading: '(C) Prodelphinidin A2 3′-gallate.', headingAt: [2365, 38], headingSize: 35, legend: [3010, 157, 234, 39] }
];

const panels3d = [
  { contours: contoursA, barTicks: barTicksA, cells: 72, view: [0, 960, 1180, 899], farRmsdHigh: true,
    plate: { r0: 0.05, r1: 7.87, g0: 28.31, g1: 31.39, z0: 12, z1: 69 },
    floor: [[666, 1760], [1033, 1631], [574, 1454], [197, 1562]],
    top: [[739, 1244], [1102, 1195], [647, 1001], [256, 1073]],
    box: { r0: -0.55, r1: 8.46, g0: 28.09, g1: 31.62, z0: 12, z1: 70.5 }, wallR: 8.46, axisR: -0.55,
    rmsdTicks: rmsdTicksA, rgTicks: rgTicksA, zTicks: zTicksA,
    rmsdOff: [20, 38], rgOff: [-26, 36], zOff: [-40, 5], tickFont: '22px "Liberation Serif", serif',
    titleFont: 'italic bold 29px "Liberation Serif", serif',
    axisTitles: [['Rg (Å)', 344, 1728, 30], ['RMSD (Å)', 937, 1783, -22], ['Free Energy (kJ/mol)', 65, 1307, -84]] },
  { contours: contoursB, barTicks: barTicksB, cells: 72, view: [1180, 960, 1110, 899], farRmsdHigh: false,
    plate: { r0: 0.04, r1: 6.41, g0: 28.75, g1: 31.26, z0: 10, z1: 70 },
    floor: [[1331, 1619], [1819, 1767], [2084, 1513], [1618, 1387]],
    top: [[1314, 1214], [1853, 1345], [2101, 1122], [1612, 1005]],
    box: { r0: -0.52, r1: 6.88, g0: 28.56, g1: 31.45, z0: 10, z1: 70 }, wallR: -0.52, axisR: 6.88,
    rmsdTicks: rmsdTicksB, rgTicks: rgTicksB, zTicks: zTicksB,
    rmsdOff: [-20, 37], rgOff: [27, 27], zOff: [27, 3], tickFont: '20px "Liberation Serif", serif',
    titleFont: 'italic bold 24px "Liberation Serif", serif',
    axisTitles: [['RMSD (Å)', 1515, 1771, 20], ['Rg (Å)', 2047, 1697, -45], ['Free Energy (kJ/mol)', 2218, 1304, -90]] },
  { contours: contoursC, barTicks: barTicksC, cells: 72, view: [2250, 960, 1050, 899], farRmsdHigh: false,
    plate: { r0: 0.04, r1: 5.31, g0: 29.03, g1: 31.99, z0: 10, z1: 70 },
    floor: [[2368, 1619], [2863, 1774], [3131, 1513], [2659, 1379]],
    top: [[2352, 1201], [2871, 1344], [3146, 1103], [2655, 983]],
    box: { r0: -0.36, r1: 5.7, g0: 28.81, g1: 32.24, z0: 10, z1: 70 }, wallR: -0.36, axisR: 5.7,
    rmsdTicks: rmsdTicksC, rgTicks: rgTicksC, zTicks: zTicksC,
    rmsdOff: [-18, 40], rgOff: [23, 28], zOff: [36, 3], tickFont: '21px "Liberation Serif", serif',
    titleFont: 'italic bold 25px "Liberation Serif", serif',
    axisTitles: [['RMSD (Å)', 2557, 1780, 20], ['Rg (Å)', 3091, 1702, -48], ['Free Energy (kJ/mol)', 3268, 1298, -90]] }
];

panels3d.forEach(draw3dPanel);
panels2d.forEach(draw2dPanel);
drawContinuousBar();
</script>
</body>
</html>
